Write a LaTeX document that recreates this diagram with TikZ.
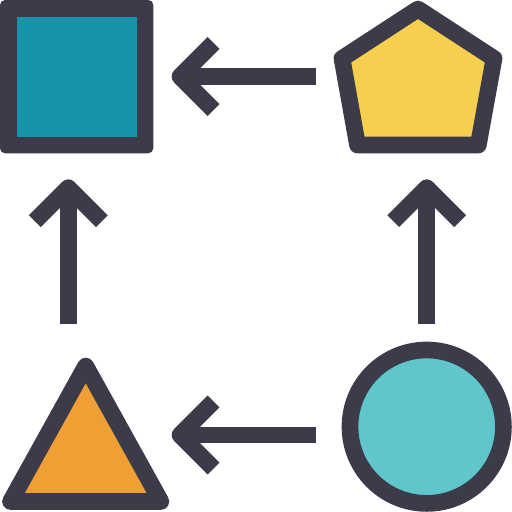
\documentclass[tikz,border=0pt]{standalone}
\usetikzlibrary{calc}
\definecolor{ink}{HTML}{3C3B49}
\definecolor{sqfill}{HTML}{1893A9}
\definecolor{pentfill}{HTML}{F6CF4F}
\definecolor{trifill}{HTML}{F09F35}
\definecolor{circfill}{HTML}{5FC7CC}
\tikzset{
  outline/.style={draw=ink, line width=8.35pt, line join=round},
  shaft/.style={draw=ink, line width=8.35pt, line cap=butt},
  barb/.style={draw=ink, line width=8.35pt, line cap=butt, line join=round},
}
\begin{document}
\begin{tikzpicture}[x=0.5pt,y=-0.5pt]
\useasboundingbox (0,0) rectangle (512,512);
% square
\fill[ink, rounded corners=2.5pt] (0,0) rectangle (153.3,153.3);
\fill[sqfill] (16.7,16.7) rectangle (136.7,136.7);
% pentagon
\draw[outline, fill=pentfill] (418,9) -- (494,58.5) -- (478.3,145) -- (357.5,145) -- (342,58.5) -- cycle;
% triangle
\draw[outline, fill=trifill] (85.7,366) -- (160.9,501.5) -- (10.5,501.5) -- cycle;
% circle
\draw[outline, fill=circfill] (426.7,426.7) circle[radius=76.7];
% arrow endpoints
\coordinate (topS) at (316,76.5);
\coordinate (topE) at (180,76.5);
\coordinate (botS) at (316,435);
\coordinate (botE) at (180,435);
\coordinate (leftS) at (68.3,324);
\coordinate (leftE) at (68.3,187.7);
\coordinate (rightS) at (426.7,324);
\coordinate (rightE) at (426.7,187.7);
% horizontal arrows
\foreach \s/\e in {topS/topE, botS/botE}{
  \draw[shaft] (\s) -- (\e);
  \draw[barb] ($(\e)+(33.5,-33.5)$) -- (\e) -- ($(\e)+(33.5,33.5)$);
}
% vertical arrows
\foreach \s/\e in {leftS/leftE, rightS/rightE}{
  \draw[shaft] (\s) -- (\e);
  \draw[barb] ($(\e)+(-33.5,33.5)$) -- (\e) -- ($(\e)+(33.5,33.5)$);
}
\end{tikzpicture}
\end{document}
